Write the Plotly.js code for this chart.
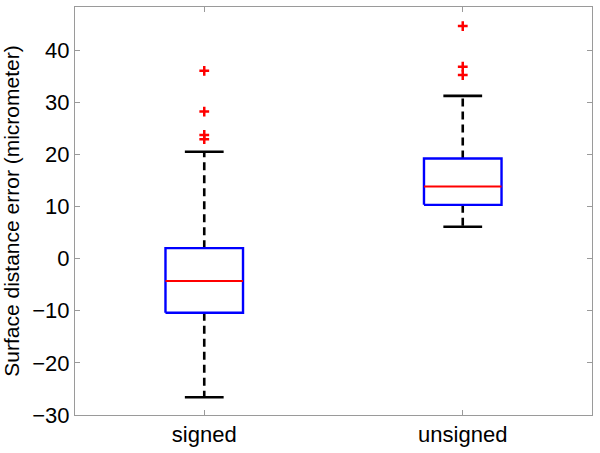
<!DOCTYPE html>
<html>
<head>
<meta charset="utf-8">
<script src="https://cdn.plot.ly/plotly-3.0.1.min.js"></script>
<style>html,body{margin:0;padding:0;background:#fff;}#chart{width:600px;height:453px;}</style>
</head>
<body>
<div id="chart"></div>
<script>
// Data
const categories = ["signed", "unsigned"];
const q1 = [-10.4, 10.3];
const medians = [-4.3, 13.8];
const q3 = [2.0, 19.2];
const lowerWhisker = [-26.6, 6.1];
const upperWhisker = [20.5, 31.2];
const outliers = [
  [36.0, 28.2, 23.7, 22.9],
  [44.6, 36.8, 35.2]
];
const yTickVals = [-30, -20, -10, 0, 10, 20, 30, 40];

const boxHalf = 0.15, capHalf = 0.075;
const traces = [];
const bx = [], by = [], mx = [], my = [], wx = [], wy = [], cx = [], cy = [], ox = [], oy = [];
categories.forEach((c, i) => {
  const p = i + 1;
  bx.push(p - boxHalf, p + boxHalf, p + boxHalf, p - boxHalf, p - boxHalf, null);
  by.push(q1[i], q1[i], q3[i], q3[i], q1[i], null);
  mx.push(p - boxHalf, p + boxHalf, null);
  my.push(medians[i], medians[i], null);
  wx.push(p, p, null, p, p, null);
  wy.push(q3[i], upperWhisker[i], null, q1[i], lowerWhisker[i], null);
  cx.push(p - capHalf, p + capHalf, null, p - capHalf, p + capHalf, null);
  cy.push(upperWhisker[i], upperWhisker[i], null, lowerWhisker[i], lowerWhisker[i], null);
  outliers[i].forEach(v => { ox.push(p); oy.push(v); });
});
traces.push({x: wx, y: wy, mode: 'lines', line: {color: '#000', width: 2.6, dash: '8px,5px'}, hoverinfo: 'skip'});
traces.push({x: cx, y: cy, mode: 'lines', line: {color: '#000', width: 2.6}, hoverinfo: 'skip'});
traces.push({x: bx, y: by, mode: 'lines', line: {color: '#0000ff', width: 2.4}, hoverinfo: 'skip'});
traces.push({x: mx, y: my, mode: 'lines', line: {color: '#ff0000', width: 2}, hoverinfo: 'skip'});
traces.push({x: ox, y: oy, mode: 'markers', marker: {symbol: 'cross-thin-open', size: 7, color: '#ff0000', line: {color: '#ff0000', width: 2.5}}, hoverinfo: 'skip'});

const layout = {
  width: 600, height: 453,
  margin: {l: 75, r: 8, t: 7, b: 38},
  paper_bgcolor: '#fff', plot_bgcolor: '#fff',
  showlegend: false,
  font: {family: '"Liberation Sans", Arial, Helvetica, sans-serif', size: 22, color: '#000'},
  xaxis: {
    range: [0.5, 2.5], tickvals: [1, 2], ticktext: categories,
    showgrid: false, zeroline: false, showline: true, linecolor: '#9a9a9a', linewidth: 1,
    mirror: 'ticks', ticks: 'inside', ticklen: 5, tickcolor: '#9a9a9a',
    tickfont: {size: 22, color: '#000'}
  },
  yaxis: {
    range: [-30, 48.25], tickvals: yTickVals,
    showgrid: false, zeroline: false, showline: true, linecolor: '#9a9a9a', linewidth: 1,
    mirror: 'ticks', ticks: 'inside', ticklen: 5, tickcolor: '#9a9a9a',
    tickfont: {size: 22, color: '#000'},
    title: {text: 'Surface distance error (micrometer)', font: {size: 21, color: '#000'}, standoff: 6}
  }
};
Plotly.newPlot('chart', traces, layout, {staticPlot: true, displayModeBar: false});
</script>
</body>
</html>
